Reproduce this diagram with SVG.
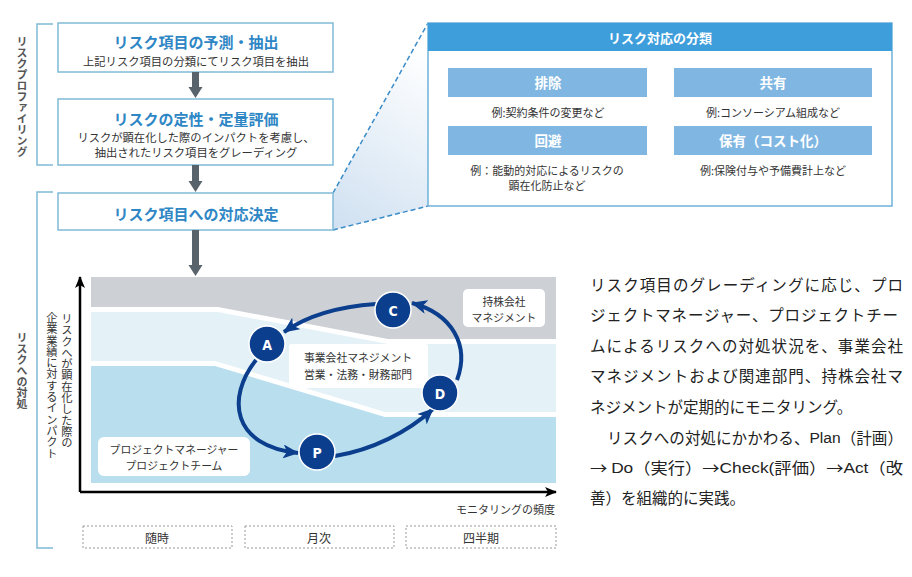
<svg xmlns="http://www.w3.org/2000/svg" width="912" height="577" viewBox="0 0 912 577">
<style>
text{font-family:"Noto Sans CJK JP","Noto Sans",sans-serif;dominant-baseline:central}
.t{fill:#2e86c5;font-weight:bold;font-size:15px;text-anchor:middle}
.s{fill:#333;font-size:11.3px;text-anchor:middle}
.box{fill:#fff;stroke:#80bad6;stroke-width:1.5}
.side{fill:#555;font-size:11px;font-weight:bold;writing-mode:vertical-rl}
.br{fill:none;stroke:#80bad6;stroke-width:1.5}
.garrow{fill:#58636c}
.sub{fill:#80b7e2}
.subt{fill:#fff;font-weight:bold;font-size:13.5px;text-anchor:middle}
.ex{fill:#333;font-size:11px;text-anchor:middle}
.lbl{fill:#333;font-size:10.8px;text-anchor:middle}
.cyc{fill:none;stroke:#0c3e8e;stroke-width:4;marker-end:url(#nav)}
.circ{fill:#0c3e8e;stroke:#fff;stroke-width:1.5}
.cl{fill:#fff;font-family:"DejaVu Sans Condensed","Liberation Sans Narrow",sans-serif;font-weight:bold;font-size:14px;text-anchor:middle}
.dash{fill:#fff;stroke:#999;stroke-width:1;stroke-dasharray:2 2}
.p{fill:#222;font-size:15.5px}
.lat{font-family:"Liberation Sans",Arial,sans-serif}
.yl{fill:#333;font-size:11.3px;writing-mode:vertical-rl}
</style>
<defs>
<linearGradient id="fan" x1="333" y1="230" x2="440" y2="60" gradientUnits="userSpaceOnUse">
<stop offset="0" stop-color="#cfe0f1"/>
<stop offset="1" stop-color="#ffffff"/>
</linearGradient>
<marker id="nav" markerUnits="userSpaceOnUse" markerWidth="16" markerHeight="14" viewBox="0 0 16 14" refX="15" refY="7" orient="auto">
<path d="M0,0 L16,7 L0,14 L4,7 z" fill="#0c3e8e"/>
</marker>
<marker id="blk" markerUnits="userSpaceOnUse" markerWidth="12" markerHeight="10" viewBox="0 0 12 10" refX="11" refY="5" orient="auto">
<path d="M0,0 L12,5 L0,10 L3,5 z" fill="#000"/>
</marker>
</defs>
<rect width="912" height="577" fill="#fff"/>

<!-- brackets and side labels -->
<g id="bracket-profiling">
<path class="br" d="M53,24 H37 V165 H53"/>
<text class="side" x="22" y="36">リスクプロファイリング</text>
</g>
<g id="bracket-response">
<path class="br" d="M53,192 H37 V548 H53"/>
<text class="side" x="22" y="332">リスクへの対処</text>
</g>

<!-- zoom fan -->
<g id="fan-zoom">
<polygon points="333,193 428,23 428,206 333,230" fill="url(#fan)"/>
<path d="M333,193 L428,23 M333,230 L428,206" fill="none" stroke="#3a8cc8" stroke-width="1.5" stroke-dasharray="5 3"/>
</g>

<!-- flow boxes -->
<g id="box-predict">
<rect class="box" x="58" y="23" width="275" height="49"/>
<text class="t" x="196" y="41">リスク項目の予測・抽出</text>
<text class="s" x="196" y="61">上記リスク項目の分類にてリスク項目を抽出</text>
</g>
<g id="box-evaluate">
<rect class="box" x="58" y="99" width="275" height="66"/>
<text class="t" x="196" y="118">リスクの定性・定量評価</text>
<text class="s" x="196" y="137">リスクが顕在化した際のインパクトを考慮し、</text>
<text class="s" x="196" y="152">抽出されたリスク項目をグレーディング</text>
</g>
<g id="box-decide">
<rect class="box" x="58" y="193" width="275" height="37"/>
<text class="t" x="196" y="213">リスク項目への対応決定</text>
</g>

<!-- connectors -->
<g id="connectors">
<g class="garrow">
<rect x="192" y="72" width="7" height="15"/>
<polygon points="188.5,87 202.5,87 195.5,98"/>
<rect x="192" y="165" width="7" height="16"/>
<polygon points="188.5,181 202.5,181 195.5,192"/>
<rect x="192" y="230" width="7" height="35"/>
<polygon points="188.5,265 202.5,265 195.5,276"/>
</g>
</g>

<!-- classification panel -->
<g id="panel-classification">
<rect x="428" y="23" width="464" height="183" fill="#fff" stroke="#6fb2da" stroke-width="1.5"/>
<rect x="428" y="23" width="464" height="28" fill="#3d9edb"/>
<text x="660" y="37" fill="#fff" font-weight="bold" font-size="13" text-anchor="middle">リスク対応の分類</text>
</g>
<g id="cls-elimination">
<rect class="sub" x="448" y="68" width="199" height="29"/>
<text class="subt" x="548" y="82">排除</text>
<text class="ex" x="548" y="112">例:契約条件の変更など</text>
</g>
<g id="cls-sharing">
<rect class="sub" x="674" y="68" width="198" height="29"/>
<text class="subt" x="773" y="82">共有</text>
<text class="ex" x="773" y="112">例:コンソーシアム組成など</text>
</g>
<g id="cls-avoidance">
<rect class="sub" x="448" y="126" width="199" height="29"/>
<text class="subt" x="548" y="140">回避</text>
<text class="ex" x="547" y="170">例：能動的対応によるリスクの</text>
<text class="ex" x="547" y="185">顕在化防止など</text>
</g>
<g id="cls-retention">
<rect class="sub" x="674" y="126" width="198" height="29"/>
<text class="subt" x="773" y="140">保有（コスト化）</text>
<text class="ex" x="773" y="170">例:保険付与や予備費計上など</text>
</g>

<!-- chart bands -->
<g id="chart-bands">
<polygon points="91,277 556,277 556,339 388,339 218,307 91,307" fill="#cdd1d6"/>
<polygon points="91,312 218,312 388,344 556,344 556,412 385,412 215,361 91,361" fill="#e4f2f8"/>
<polygon points="91,366 215,366 385,417 556,417 556,483 91,483" fill="#b9dfee"/>
</g>

<g id="axes">
<line x1="80" y1="492" x2="80" y2="277" stroke="#000" stroke-width="2.5" marker-end="url(#blk)"/>
<line x1="80" y1="492" x2="556" y2="492" stroke="#000" stroke-width="2.5" marker-end="url(#blk)"/>
<text class="yl" x="67" y="313">リスクへが顕在化した際の</text>
<text class="yl" x="52" y="312">企業業績に対するインパクト</text>
<text x="555" y="509" fill="#333" font-size="11" text-anchor="end">モニタリングの頻度</text>
</g>

<g id="lbl-holding">
<rect x="463" y="289" width="82" height="38" rx="5" fill="#fff"/>
<text class="lbl" x="504" y="301">持株会社</text>
<text class="lbl" x="504" y="317">マネジメント</text>
</g>
<g id="lbl-operating">
<rect x="289" y="344" width="139" height="44" rx="3" fill="#fff"/>
<text class="lbl" x="358" y="357">事業会社マネジメント</text>
<text class="lbl" x="358" y="374">営業・法務・財務部門</text>
</g>
<g id="lbl-project">
<rect x="98" y="437" width="152" height="39" rx="6" fill="#fff"/>
<text class="lbl" x="174" y="449">プロジェクトマネージャー</text>
<text class="lbl" x="174" y="465">プロジェクトチーム</text>
</g>

<g id="cycle-arrows">
<path class="cyc" d="M376,304 Q318,308 284,332"/>
<path class="cyc" d="M256,360 C226,398 232,446 298,453"/>
<path class="cyc" d="M335,456 C372,450 408,432 433,409"/>
<path class="cyc" d="M457,380 C470,345 452,314 412,303"/>
</g>

<g id="node-A"><circle class="circ" cx="267" cy="344" r="18"/><text class="cl" x="267" y="345">A</text></g>
<g id="node-C"><circle class="circ" cx="393" cy="310" r="18"/><text class="cl" x="393" y="311">C</text></g>
<g id="node-D"><circle class="circ" cx="440" cy="393" r="18"/><text class="cl" x="440" y="394">D</text></g>
<g id="node-P"><circle class="circ" cx="317" cy="452" r="18"/><text class="cl" x="317" y="453">P</text></g>

<g id="freq-anytime"><rect class="dash" x="83" y="526" width="149" height="22"/><text x="157" y="537" fill="#333" font-size="12" text-anchor="middle">随時</text></g>
<g id="freq-monthly"><rect class="dash" x="245" y="526" width="149" height="22"/><text x="319" y="537" fill="#333" font-size="12" text-anchor="middle">月次</text></g>
<g id="freq-quarterly"><rect class="dash" x="406" y="526" width="150" height="22"/><text x="481" y="537" fill="#333" font-size="12" text-anchor="middle">四半期</text></g>

<g id="description">
<text class="p" x="590" y="284" textLength="313" lengthAdjust="spacing">リスク項目のグレーディングに応じ、プロ</text>
<text class="p" x="590" y="314" textLength="308" lengthAdjust="spacing">ジェクトマネージャー、プロジェクトチー</text>
<text class="p" x="590" y="345" textLength="313" lengthAdjust="spacing">ムによるリスクへの対処状況を、事業会社</text>
<text class="p" x="590" y="375" textLength="313" lengthAdjust="spacing">マネジメントおよび関連部門、持株会社マ</text>
<text class="p" x="590" y="406">ネジメントが定期的にモニタリング。</text>
<text class="p" x="607" y="437" textLength="296" lengthAdjust="spacingAndGlyphs">リスクへの対処にかかわる、<tspan class="lat">Plan</tspan>（計画）</text>
<text class="p" x="590" y="467" textLength="313" lengthAdjust="spacingAndGlyphs">→ <tspan class="lat">Do</tspan>（実行）→<tspan class="lat">Check(</tspan>評価）→<tspan class="lat">Act</tspan>（改</text>
<text class="p" x="590" y="497">善）を組織的に実践。</text>
</g>
</svg>
